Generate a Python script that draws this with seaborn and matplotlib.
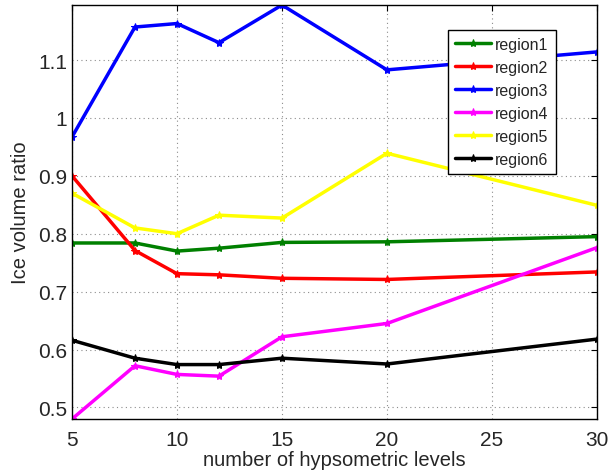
import matplotlib
matplotlib.use('Agg')
import pandas as pd
import seaborn as sns
from matplotlib import pyplot as plt

levels = [5, 8, 10, 12, 15, 20, 30]
region1 = [0.784, 0.784, 0.770, 0.775, 0.785, 0.786, 0.795]
region2 = [0.900, 0.771, 0.731, 0.729, 0.723, 0.721, 0.734]
region3 = [0.967, 1.157, 1.163, 1.130, 1.195, 1.083, 1.114]
region4 = [0.480, 0.572, 0.557, 0.554, 0.622, 0.645, 0.776]
region5 = [0.870, 0.810, 0.800, 0.832, 0.827, 0.939, 0.849]
region6 = [0.616, 0.585, 0.574, 0.574, 0.585, 0.575, 0.618]

names = ['region1', 'region2', 'region3', 'region4', 'region5', 'region6']
colors = ['#008000', '#ff0000', '#0000ff', '#ff00ff', '#ffff00', '#000000']

series = [region1, region2, region3, region4, region5, region6]
df = pd.concat(
    [pd.DataFrame({'level': levels, 'ratio': vals, 'region': name}) for name, vals in zip(names, series)],
    ignore_index=True,
)

sns.set_style('white')
plt.rcParams['font.family'] = ['Liberation Sans', 'DejaVu Sans']

fig = plt.figure(figsize=(6.11, 4.77), dpi=100)
ax = fig.add_axes([0.1178, 0.1195, 0.977 - 0.1178, 0.9874 - 0.1195])

for name, color in zip(names, colors):
    sns.lineplot(df[df['region'] == name], x='level', y='ratio', color=color, marker='*',
                 markersize=6, markeredgecolor=color, linewidth=2.5, label=name, ax=ax)

ax.set_xlim(5, 30)
ax.set_ylim(0.48, 1.195)
ax.set_xticks([5, 10, 15, 20, 25, 30])
ax.set_yticks([0.5, 0.6, 0.7, 0.8, 0.9, 1.0, 1.1])
ax.set_yticklabels(['0.5', '0.6', '0.7', '0.8', '0.9', '1', '1.1'])
ax.grid(True, linestyle=(0, (1, 3)), color='#8c8c8c', linewidth=0.8)
ax.tick_params(direction='in', labelsize=15, top=True, right=True, length=4, color='black')
ax.tick_params(axis='x', pad=8)
for s in ax.spines.values():
    s.set_color('black')
    s.set_linewidth(1)

ax.set_xlabel('number of hypsometric levels', fontsize=14.5, labelpad=1)
ax.set_ylabel('Ice volume ratio', fontsize=14.5, labelpad=6)

leg = ax.legend(loc='upper right', bbox_to_anchor=(0.922, 0.940), borderaxespad=0, fontsize=11.5,
                handlelength=2.2, handletextpad=0.3, fancybox=False, framealpha=1, edgecolor='black',
                borderpad=0.45, labelspacing=0.5)
leg.get_frame().set_linewidth(1)

fig.savefig('out.png', dpi=100)
